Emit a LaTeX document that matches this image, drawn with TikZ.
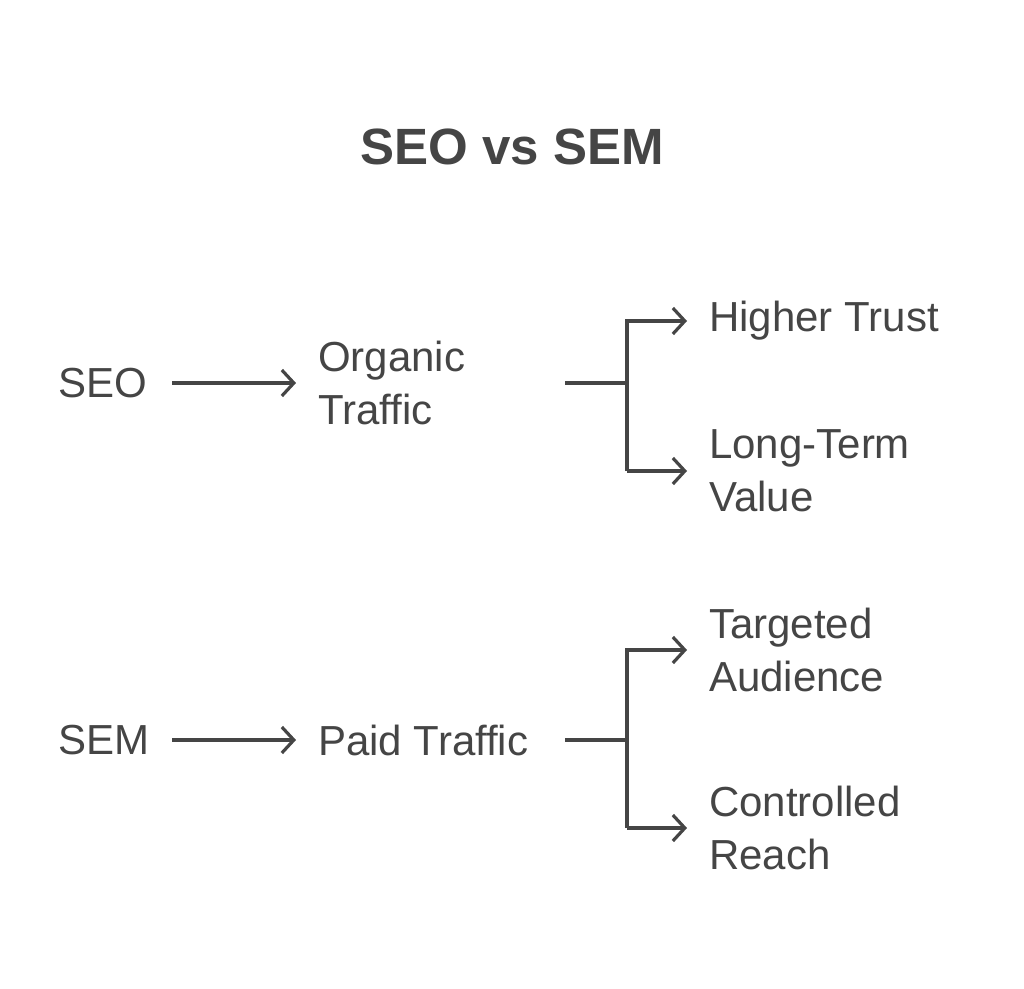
\documentclass[tikz,border=0pt]{standalone}
\usepackage{fontspec}
\setmainfont{Liberation Sans}
\usetikzlibrary{arrows.meta}
\definecolor{ink}{HTML}{454545}
\begin{document}
\begin{tikzpicture}[x=1pt,y=-1pt,
  lbl/.style={anchor=west,align=left,inner sep=0pt,text=ink,font=\fontsize{42}{53}\selectfont},
  conn/.style={draw=ink,line width=3.2pt},
  arr/.style={conn,line join=miter,-{Straight Barb[length=12pt,width=26pt,line width=3.2pt]}}]
\useasboundingbox (0,0) rectangle (1024,988);
\node[text=ink,font=\bfseries\fontsize{51}{60}\selectfont] (title) at (512,147) {SEO vs SEM};
% SEO
\node[lbl] (seo) at (58,383) {SEO};
\node[lbl] (org) at (318,383) {Organic\\Traffic};
\node[lbl] (ht) at (709,321) {Higher Trust};
\node[lbl] (lt) at (709,471) {Long-Term\\Value};
\coordinate (s1) at (172,383);
\coordinate (s2) at (296,383);
\coordinate (o1) at (565,383);
\coordinate (b1) at (627,383);
\coordinate (t1) at (627,321);
\coordinate (t2) at (687,321);
\coordinate (u1) at (627,471);
\coordinate (u2) at (687,471);
\draw[arr] (s1) -- (s2);
\draw[conn] (o1) -- (b1);
\draw[arr] (u1) -- (t1) -- (t2);
\draw[arr] (u1) -- (u2);
% SEM
\node[lbl] (sem) at (58,740) {SEM};
\node[lbl] (paid) at (318,740) {Paid Traffic};
\node[lbl] (ta) at (709,650) {Targeted\\Audience};
\node[lbl] (cr) at (709,828) {Controlled\\Reach};
\coordinate (m1) at (172,740);
\coordinate (m2) at (296,740);
\coordinate (p1) at (565,740);
\coordinate (c1) at (627,740);
\coordinate (v1) at (627,650);
\coordinate (v2) at (687,650);
\coordinate (w1) at (627,828);
\coordinate (w2) at (687,828);
\draw[arr] (m1) -- (m2);
\draw[conn] (p1) -- (c1);
\draw[arr] (w1) -- (v1) -- (v2);
\draw[arr] (w1) -- (w2);
\end{tikzpicture}
\end{document}
